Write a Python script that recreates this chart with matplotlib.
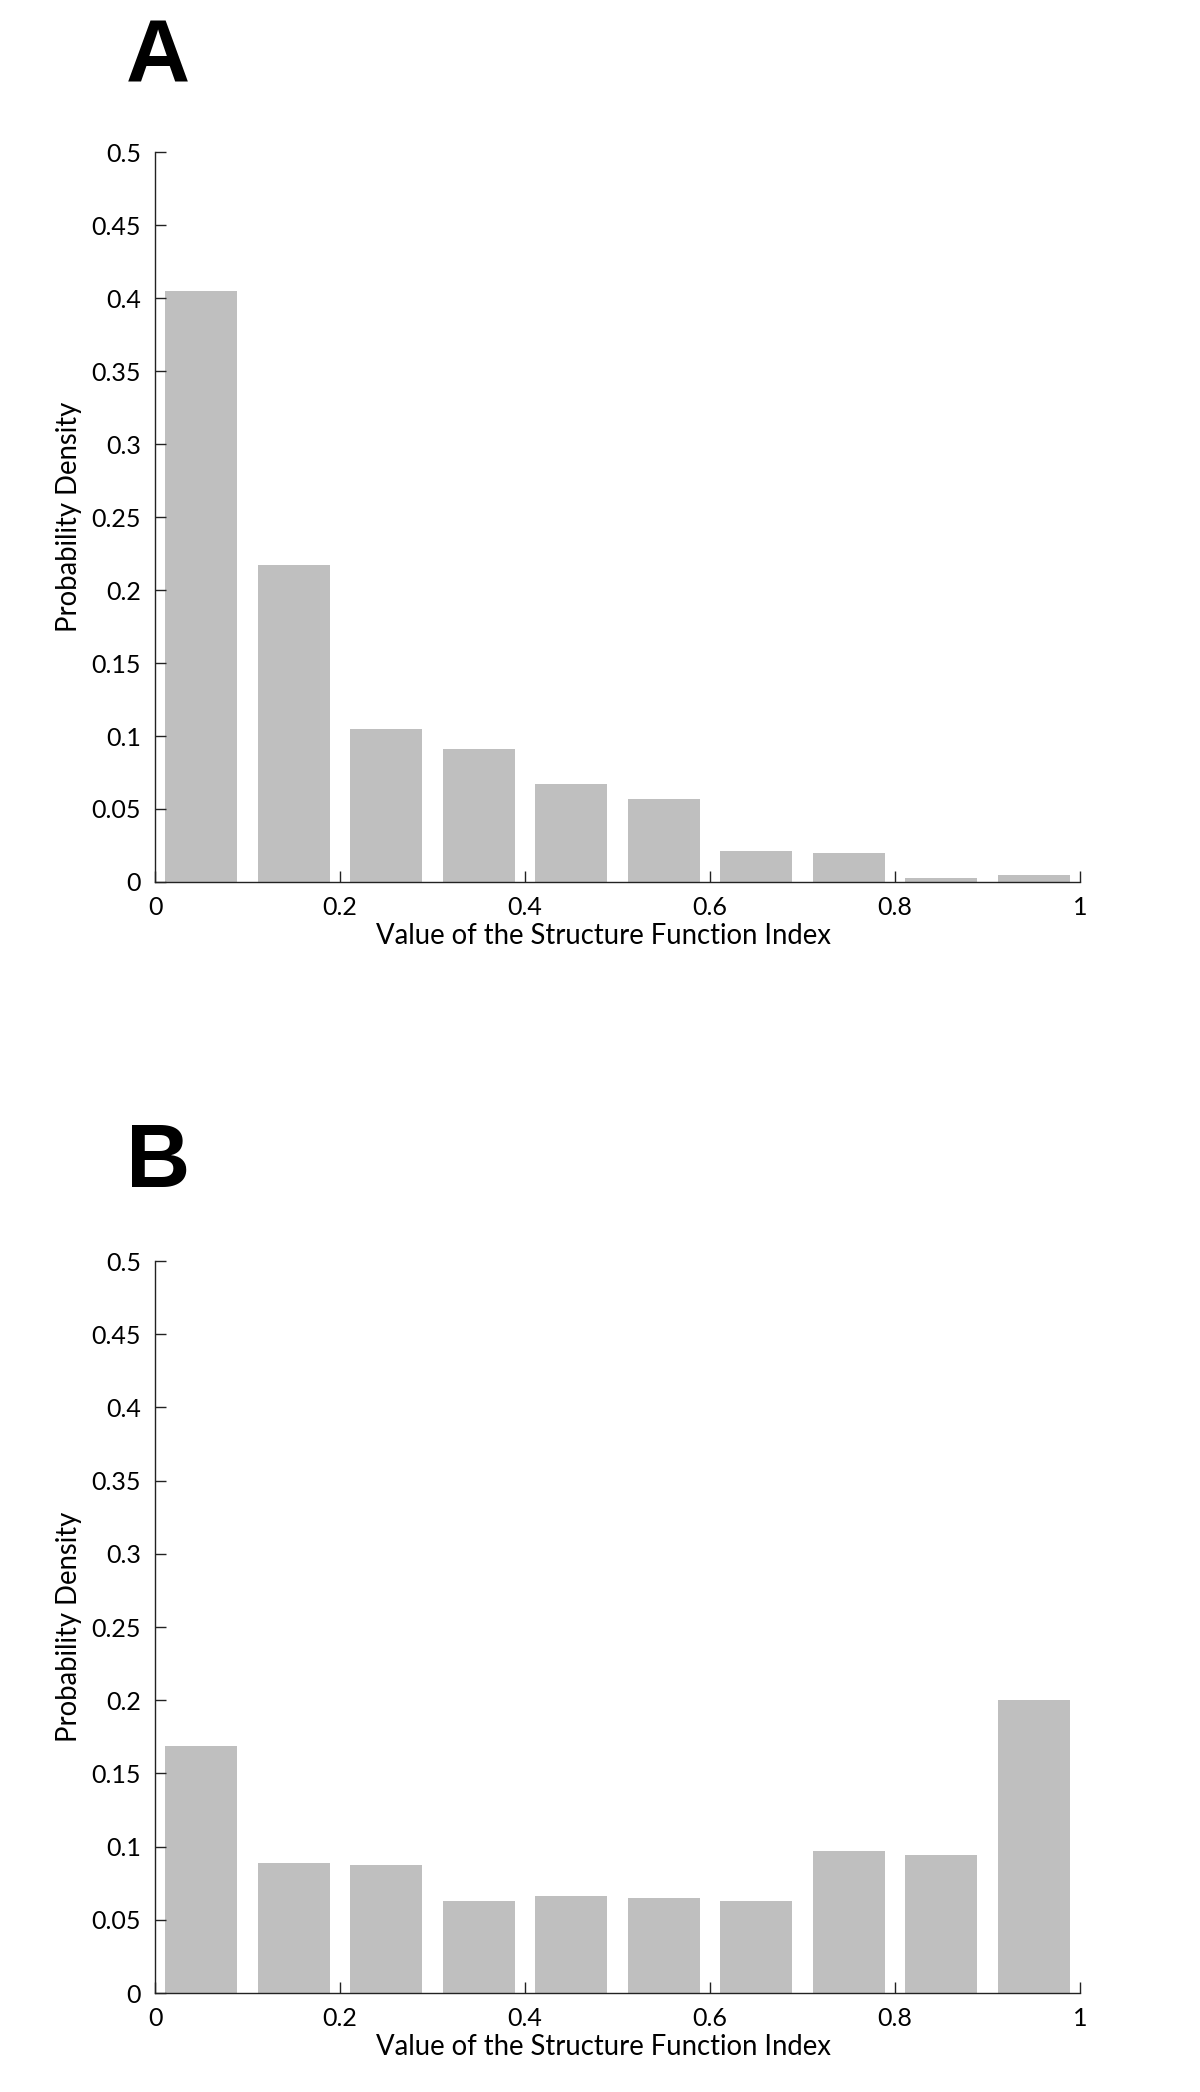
import numpy as np
import matplotlib
matplotlib.use("Agg")
import matplotlib.pyplot as plt

# bin centres of the structure function index histogram
bin_centres = [0.05, 0.15, 0.25, 0.35, 0.45, 0.55, 0.65, 0.75, 0.85, 0.95]
dens_a = [0.405, 0.217, 0.105, 0.091, 0.067, 0.057, 0.021, 0.020, 0.003, 0.005]
dens_b = [0.169, 0.089, 0.0875, 0.063, 0.066, 0.065, 0.063, 0.097, 0.094, 0.200]

xticks = [0, 0.2, 0.4, 0.6, 0.8, 1]
xticklabels = ["0", "0.2", "0.4", "0.6", "0.8", "1"]
yticks = [0, 0.05, 0.1, 0.15, 0.2, 0.25, 0.3, 0.35, 0.4, 0.45, 0.5]
yticklabels = ["0", "0.05", "0.1", "0.15", "0.2", "0.25", "0.3", "0.35", "0.4", "0.45", "0.5"]
panel_names = ["A", "B"]

plt.rcParams['font.family'] = ['Lato', 'DejaVu Sans']

fig = plt.figure(figsize=(12, 20.92), dpi=100)

def draw_panel(ax, dens):
    ax.bar(bin_centres, dens, width=0.078, color='#bfbfbf', edgecolor='none')
    ax.set_xlim(0, 1)
    ax.set_ylim(0, 0.5)
    ax.set_xticks(xticks)
    ax.set_xticklabels(xticklabels)
    ax.set_yticks(yticks)
    ax.set_yticklabels(yticklabels)
    ax.spines['top'].set_visible(False)
    ax.spines['right'].set_visible(False)
    for s in ['left', 'bottom']:
        ax.spines[s].set_linewidth(1.0)
        ax.spines[s].set_color('#222222')
    ax.tick_params(direction='in', length=8, width=1.0, color='#222222',
                   labelsize=18, pad=10)
    ax.set_xlabel("Value of the Structure Function Index", fontsize=19.8, va='center')
    ax.xaxis.set_label_coords(0.485, -0.074)
    ax.set_ylabel("Probability Density", fontsize=19.8, va='center')
    ax.yaxis.set_label_coords(-0.093, 0.5)

ax1 = fig.add_axes([0.1292, 0.5784, 0.7708, 0.3489])
draw_panel(ax1, dens_a)
ax2 = fig.add_axes([0.1292, 0.0473, 0.7708, 0.3499])
draw_panel(ax2, dens_b)

fig.text(158/1200, 0.9608, panel_names[0], fontsize=64, fontweight='bold',
         ha='center', va='baseline', family=['Liberation Sans', 'DejaVu Sans'])
fig.text(158/1200, 0.4326, panel_names[1], fontsize=64, fontweight='bold',
         ha='center', va='baseline', family=['Liberation Sans', 'DejaVu Sans'])

fig.savefig("out.png", dpi=100, facecolor='white')
